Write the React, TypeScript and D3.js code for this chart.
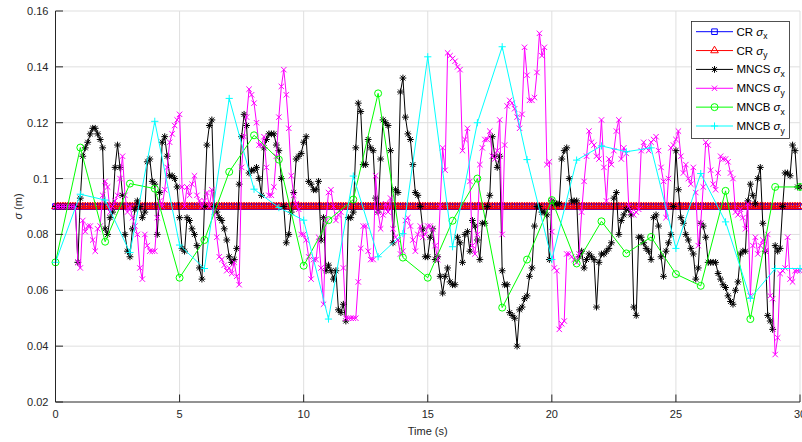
import React from 'react';
import * as d3 from 'd3';

// ---------------- DATA ----------------
const sampleStep = 0.1; // MNCS / CR sampling period (s)
const crSigmaX = 0.09;
const crSigmaY = 0.09;

const mncsSigmaX = [
  0.090,0.090,0.090,0.090,0.090,0.090,0.090,0.090,0.090,0.070,
  0.093,0.108,0.111,0.113,0.116,0.118,0.118,0.116,0.114,0.111,
  0.082,0.080,0.086,0.088,0.104,0.112,0.104,0.094,0.080,0.074,
  0.072,0.082,0.089,0.092,0.090,0.086,0.088,0.106,0.107,0.099,
  0.098,0.080,0.095,0.113,0.115,0.108,0.101,0.101,0.100,0.097,
  0.086,0.075,0.074,0.086,0.085,0.082,0.080,0.076,0.068,0.064,
  0.090,0.112,0.119,0.121,0.090,0.088,0.086,0.085,0.082,0.078,
  0.072,0.070,0.071,0.075,0.098,0.115,0.123,0.119,0.102,0.103,
  0.103,0.104,0.100,0.094,0.111,0.114,0.116,0.116,0.116,0.112,
  0.110,0.100,0.090,0.077,0.080,0.088,0.095,0.107,0.108,0.109,
  0.113,0.115,0.099,0.098,0.096,0.096,0.099,0.078,0.086,0.067,
  0.069,0.067,0.064,0.067,0.053,0.052,0.055,0.049,0.086,0.086,
  0.088,0.111,0.127,0.124,0.105,0.105,0.114,0.111,0.110,0.093,
  0.088,0.107,0.121,0.120,0.119,0.110,0.077,0.096,0.095,0.131,
  0.136,0.122,0.116,0.114,0.105,0.095,0.094,0.090,0.082,0.072,
  0.072,0.079,0.082,0.071,0.072,0.065,0.059,0.065,0.068,0.063,
  0.062,0.062,0.079,0.077,0.070,0.080,0.081,0.074,0.085,0.083,
  0.078,0.071,0.084,0.084,0.090,0.094,0.115,0.108,0.104,0.108,
  0.067,0.062,0.062,0.052,0.051,0.050,0.040,0.053,0.054,0.057,
  0.058,0.065,0.068,0.083,0.090,0.090,0.088,0.088,0.087,0.071,
  0.092,0.091,0.091,0.091,0.107,0.110,0.111,0.100,0.092,0.092,
  0.092,0.072,0.074,0.068,0.071,0.073,0.072,0.071,0.054,0.070,
  0.073,0.073,0.074,0.075,0.077,0.093,0.095,0.080,0.085,0.087,
  0.089,0.089,0.087,0.054,0.051,0.079,0.079,0.077,0.075,0.074,
  0.071,0.086,0.087,0.083,0.072,0.065,0.074,0.077,0.080,0.090,
  0.110,0.096,0.086,0.084,0.080,0.078,0.075,0.073,0.064,0.068,
  0.084,0.083,0.079,0.070,0.070,0.070,0.070,0.066,0.064,0.062,
  0.061,0.058,0.056,0.055,0.060,0.063,0.073,0.074,0.074,0.092,
  0.098,0.094,0.091,0.100,0.104,0.084,0.074,0.051,0.049,0.046,
  0.076,0.074,0.075,0.090,0.102,0.102,0.101,0.112,0.110,0.097,
  0.097,
];

const mncsSigmaY = [
  0.090,0.090,0.090,0.090,0.090,0.090,0.090,0.090,0.090,0.070,
  0.068,0.085,0.081,0.083,0.083,0.078,0.074,0.082,0.083,0.094,
  0.099,0.097,0.088,0.090,0.092,0.094,0.100,0.108,0.094,0.088,
  0.090,0.086,0.083,0.080,0.068,0.064,0.080,0.076,0.074,0.074,
  0.074,0.086,0.092,0.090,0.096,0.104,0.113,0.116,0.119,0.121,
  0.123,0.097,0.090,0.097,0.094,0.098,0.101,0.094,0.092,0.090,
  0.092,0.095,0.090,0.096,0.088,0.079,0.072,0.071,0.069,0.067,
  0.068,0.066,0.070,0.065,0.062,0.104,0.115,0.122,0.132,0.130,
  0.127,0.120,0.112,0.112,0.115,0.104,0.094,0.094,0.097,0.108,
  0.122,0.133,0.139,0.130,0.118,0.101,0.094,0.091,0.089,0.080,
  0.080,0.078,0.072,0.064,0.071,0.071,0.079,0.068,0.055,0.085,
  0.095,0.096,0.090,0.085,0.087,0.088,0.068,0.050,0.050,0.050,
  0.050,0.050,0.063,0.075,0.083,0.083,0.074,0.071,0.071,0.101,
  0.088,0.082,0.087,0.091,0.088,0.093,0.082,0.079,0.078,0.073,
  0.074,0.085,0.086,0.083,0.078,0.074,0.080,0.083,0.079,0.080,
  0.083,0.083,0.082,0.076,0.071,0.090,0.111,0.103,0.145,0.144,
  0.143,0.142,0.140,0.139,0.110,0.114,0.118,0.099,0.076,0.073,
  0.080,0.105,0.111,0.114,0.114,0.117,0.108,0.107,0.110,0.121,
  0.080,0.112,0.126,0.128,0.127,0.125,0.122,0.118,0.123,0.147,
  0.137,0.128,0.128,0.129,0.138,0.152,0.144,0.147,0.105,0.106,
  0.081,0.068,0.067,0.046,0.048,0.049,0.073,0.073,0.072,0.071,
  0.070,0.073,0.088,0.099,0.108,0.117,0.113,0.112,0.108,0.107,
  0.121,0.104,0.092,0.107,0.105,0.110,0.117,0.121,0.107,0.111,
  0.109,0.090,0.088,0.087,0.088,0.089,0.110,0.113,0.111,0.110,
  0.113,0.114,0.115,0.110,0.104,0.099,0.086,0.100,0.111,0.112,
  0.114,0.117,0.108,0.102,0.105,0.100,0.098,0.104,0.095,0.076,
  0.084,0.097,0.113,0.112,0.103,0.098,0.096,0.102,0.108,0.107,
  0.107,0.106,0.102,0.100,0.088,0.087,0.089,0.086,0.082,0.091,
  0.058,0.076,0.079,0.073,0.076,0.078,0.074,0.080,0.058,0.057,
  0.037,0.043,0.066,0.067,0.068,0.079,0.064,0.063,0.067,0.067,
  0.067,
];

const mncbTimes = [0,1,2,3,4,5,6,7,8,9,10,11,12,13,14,15,16,17,18,19,20,21,22,23,24,25,26,27,28,29,30];
const mncbSigmaX = [
  0.0700,0.1111,0.0774,0.0982,0.0964,0.0645,0.0780,0.1024,0.1155,0.1068,
  0.0688,0.0851,0.0925,0.1305,0.0717,0.0645,0.0849,0.1000,0.0538,0.0710,
  0.0923,0.0696,0.0847,0.0732,0.0791,0.0658,0.0616,0.0956,0.0497,0.0970,
  0.0970,
];
const mncbSigmaY = [
  0.0700,0.0944,0.0923,0.0735,0.1205,0.0762,0.0678,0.1287,0.0962,0.0896,
  0.0851,0.0497,0.1009,0.0720,0.0803,0.1436,0.0756,0.1200,0.1472,0.1068,
  0.0710,0.1066,0.1117,0.1096,0.1110,0.0750,0.1018,0.0845,0.0571,0.0678,
  0.0678,
];

const xTicks = [0, 5, 10, 15, 20, 25, 30];
const yTicks = [0.02, 0.04, 0.06, 0.08, 0.1, 0.12, 0.14, 0.16];

type MarkerKind = 'square' | 'triangle' | 'asterisk' | 'cross' | 'circle' | 'plus';
const seriesNames = ['CR', 'CR', 'MNCS', 'MNCS', 'MNCB', 'MNCB'];
const seriesSubs = ['x', 'y', 'x', 'y', 'x', 'y'];
const seriesColors = ['#0000ff', '#ff0000', '#000000', '#ff00ff', '#00ff00', '#00ffff'];
const seriesMarkers: MarkerKind[] = ['square', 'triangle', 'asterisk', 'cross', 'circle', 'plus'];

// ---------------- LAYOUT ----------------
const W = 802;
const H = 442;
const left = 55.5;
const right = 800;
const top = 11;
const bottom = 402;
const FONT = '"Liberation Sans", Arial, Helvetica, sans-serif';
const AXIS = '#262626';

function markerPath(kind: MarkerKind): string {
  switch (kind) {
    case 'square': { const r = 2.8; return `M${-r},${-r}H${r}V${r}H${-r}Z`; }
    case 'triangle': { const r = 4.4; return `M0,${-r}L${r * 0.87},${r * 0.5}L${-r * 0.87},${r * 0.5}Z`; }
    case 'asterisk': { const r = 3.4, d = r * 0.72; return `M0,${-r}V${r}M${-r},0H${r}M${-d},${-d}L${d},${d}M${-d},${d}L${d},${-d}`; }
    case 'cross': { const r = 2.7; return `M${-r},${-r}L${r},${r}M${-r},${r}L${r},${-r}`; }
    case 'circle': { const r = 3.5; return `M${r},0A${r},${r} 0 1,1 ${-r},0A${r},${r} 0 1,1 ${r},0Z`; }
    case 'plus': { const r = 3.6; return `M0,${-r}V${r}M${-r},0H${r}`; }
  }
}

export default function App() {
  const x = d3.scaleLinear().domain([0, 30]).range([left, right]);
  const y = d3.scaleLinear().domain([0.02, 0.16]).range([bottom, top]);

  const mncsTimes = mncsSigmaX.map((_, i) => +(i * sampleStep).toFixed(1));
  const seriesData: [number, number][][] = [
    mncsTimes.map((t) => [t, crSigmaX]),
    mncsTimes.map((t) => [t, crSigmaY]),
    mncsTimes.map((t, i) => [t, mncsSigmaX[i]]),
    mncsTimes.map((t, i) => [t, mncsSigmaY[i]]),
    mncbTimes.map((t, i) => [t, mncbSigmaX[i]]),
    mncbTimes.map((t, i) => [t, mncbSigmaY[i]]),
  ];

  const line = d3.line<[number, number]>().x((d) => x(d[0])).y((d) => y(d[1]));
  const yFmt = (v: number) => String(+v.toFixed(2));

  const legX = 691.5, legY = 21.5, legW = 98, legH = 117;
  const legRow0 = 31.7, legStep = 18.86;

  return (
    <svg width={W} height={H} style={{ position: 'absolute', left: 0, top: 0, background: '#fff' }} fontFamily={FONT}>
      <rect x={0} y={0} width={W} height={H} fill="#ffffff" />
      {/* grid */}
      <g stroke="#dfdfdf" strokeWidth={1}>
        {xTicks.filter((t) => t !== 0).map((t) => (
          <line key={'gx' + t} x1={x(t)} x2={x(t)} y1={top} y2={bottom} />
        ))}
        {yTicks.filter((t) => t !== 0.02).map((t) => (
          <line key={'gy' + t} x1={left} x2={right} y1={y(t)} y2={y(t)} />
        ))}
      </g>
      {/* data */}
      <defs>
        <clipPath id="plotClip">
          <rect x={left - 6} y={top - 6} width={right - left + 12} height={bottom - top + 12} />
        </clipPath>
      </defs>
      <g clipPath="url(#plotClip)">
        {seriesData.map((data, si) => (
          <g key={'s' + si} stroke={seriesColors[si]} fill="none" strokeWidth={1}>
            <path d={line(data) || ''} />
            {data.map((d, i) => (
              <path key={i} d={markerPath(seriesMarkers[si])} transform={`translate(${x(d[0])},${y(d[1])})`} />
            ))}
          </g>
        ))}
      </g>
      {/* axes */}
      <g stroke={AXIS} strokeWidth={1} fill="none">
        <line x1={left} x2={left} y1={top} y2={bottom} />
        <line x1={left} x2={right} y1={bottom} y2={bottom} />
        {xTicks.map((t) => (
          <line key={'tx' + t} x1={x(t)} x2={x(t)} y1={bottom} y2={bottom - 7.5} />
        ))}
        {yTicks.map((t) => (
          <line key={'ty' + t} x1={left} x2={left + 7.5} y1={y(t)} y2={y(t)} />
        ))}
      </g>
      <g fill={AXIS} fontSize={11}>
        {xTicks.map((t) => (
          <text key={'lx' + t} x={x(t)} y={bottom + 16} textAnchor="middle">{t}</text>
        ))}
        {yTicks.map((t) => (
          <text key={'ly' + t} x={left - 7} y={y(t) + 4} textAnchor="end">{yFmt(t)}</text>
        ))}
        <text x={(left + right) / 2} y={bottom + 33} textAnchor="middle">Time (s)</text>
        <text transform={`translate(22,${(top + bottom) / 2}) rotate(-90)`} textAnchor="middle">
          <tspan fontStyle="italic">σ</tspan> (m)
        </text>
      </g>
      {/* legend */}
      <g>
        <rect x={legX} y={legY} width={legW} height={legH} fill="#ffffff" stroke={AXIS} strokeWidth={0.8} />
        {seriesNames.map((name, i) => {
          const cy = legRow0 + i * legStep;
          return (
            <g key={'lg' + i}>
              <g stroke={seriesColors[i]} fill="none" strokeWidth={1}>
                <line x1={696} x2={733} y1={cy} y2={cy} />
                <path d={markerPath(seriesMarkers[i])} transform={`translate(714.5,${cy})`} />
              </g>
              <text x={736.5} y={cy + 4} fontSize={11.5} fill="#000">
                {name} <tspan fontStyle="italic">σ</tspan>
                <tspan dy={3.5} fontSize={8.5}>{seriesSubs[i]}</tspan>
              </text>
            </g>
          );
        })}
      </g>
    </svg>
  );
}
